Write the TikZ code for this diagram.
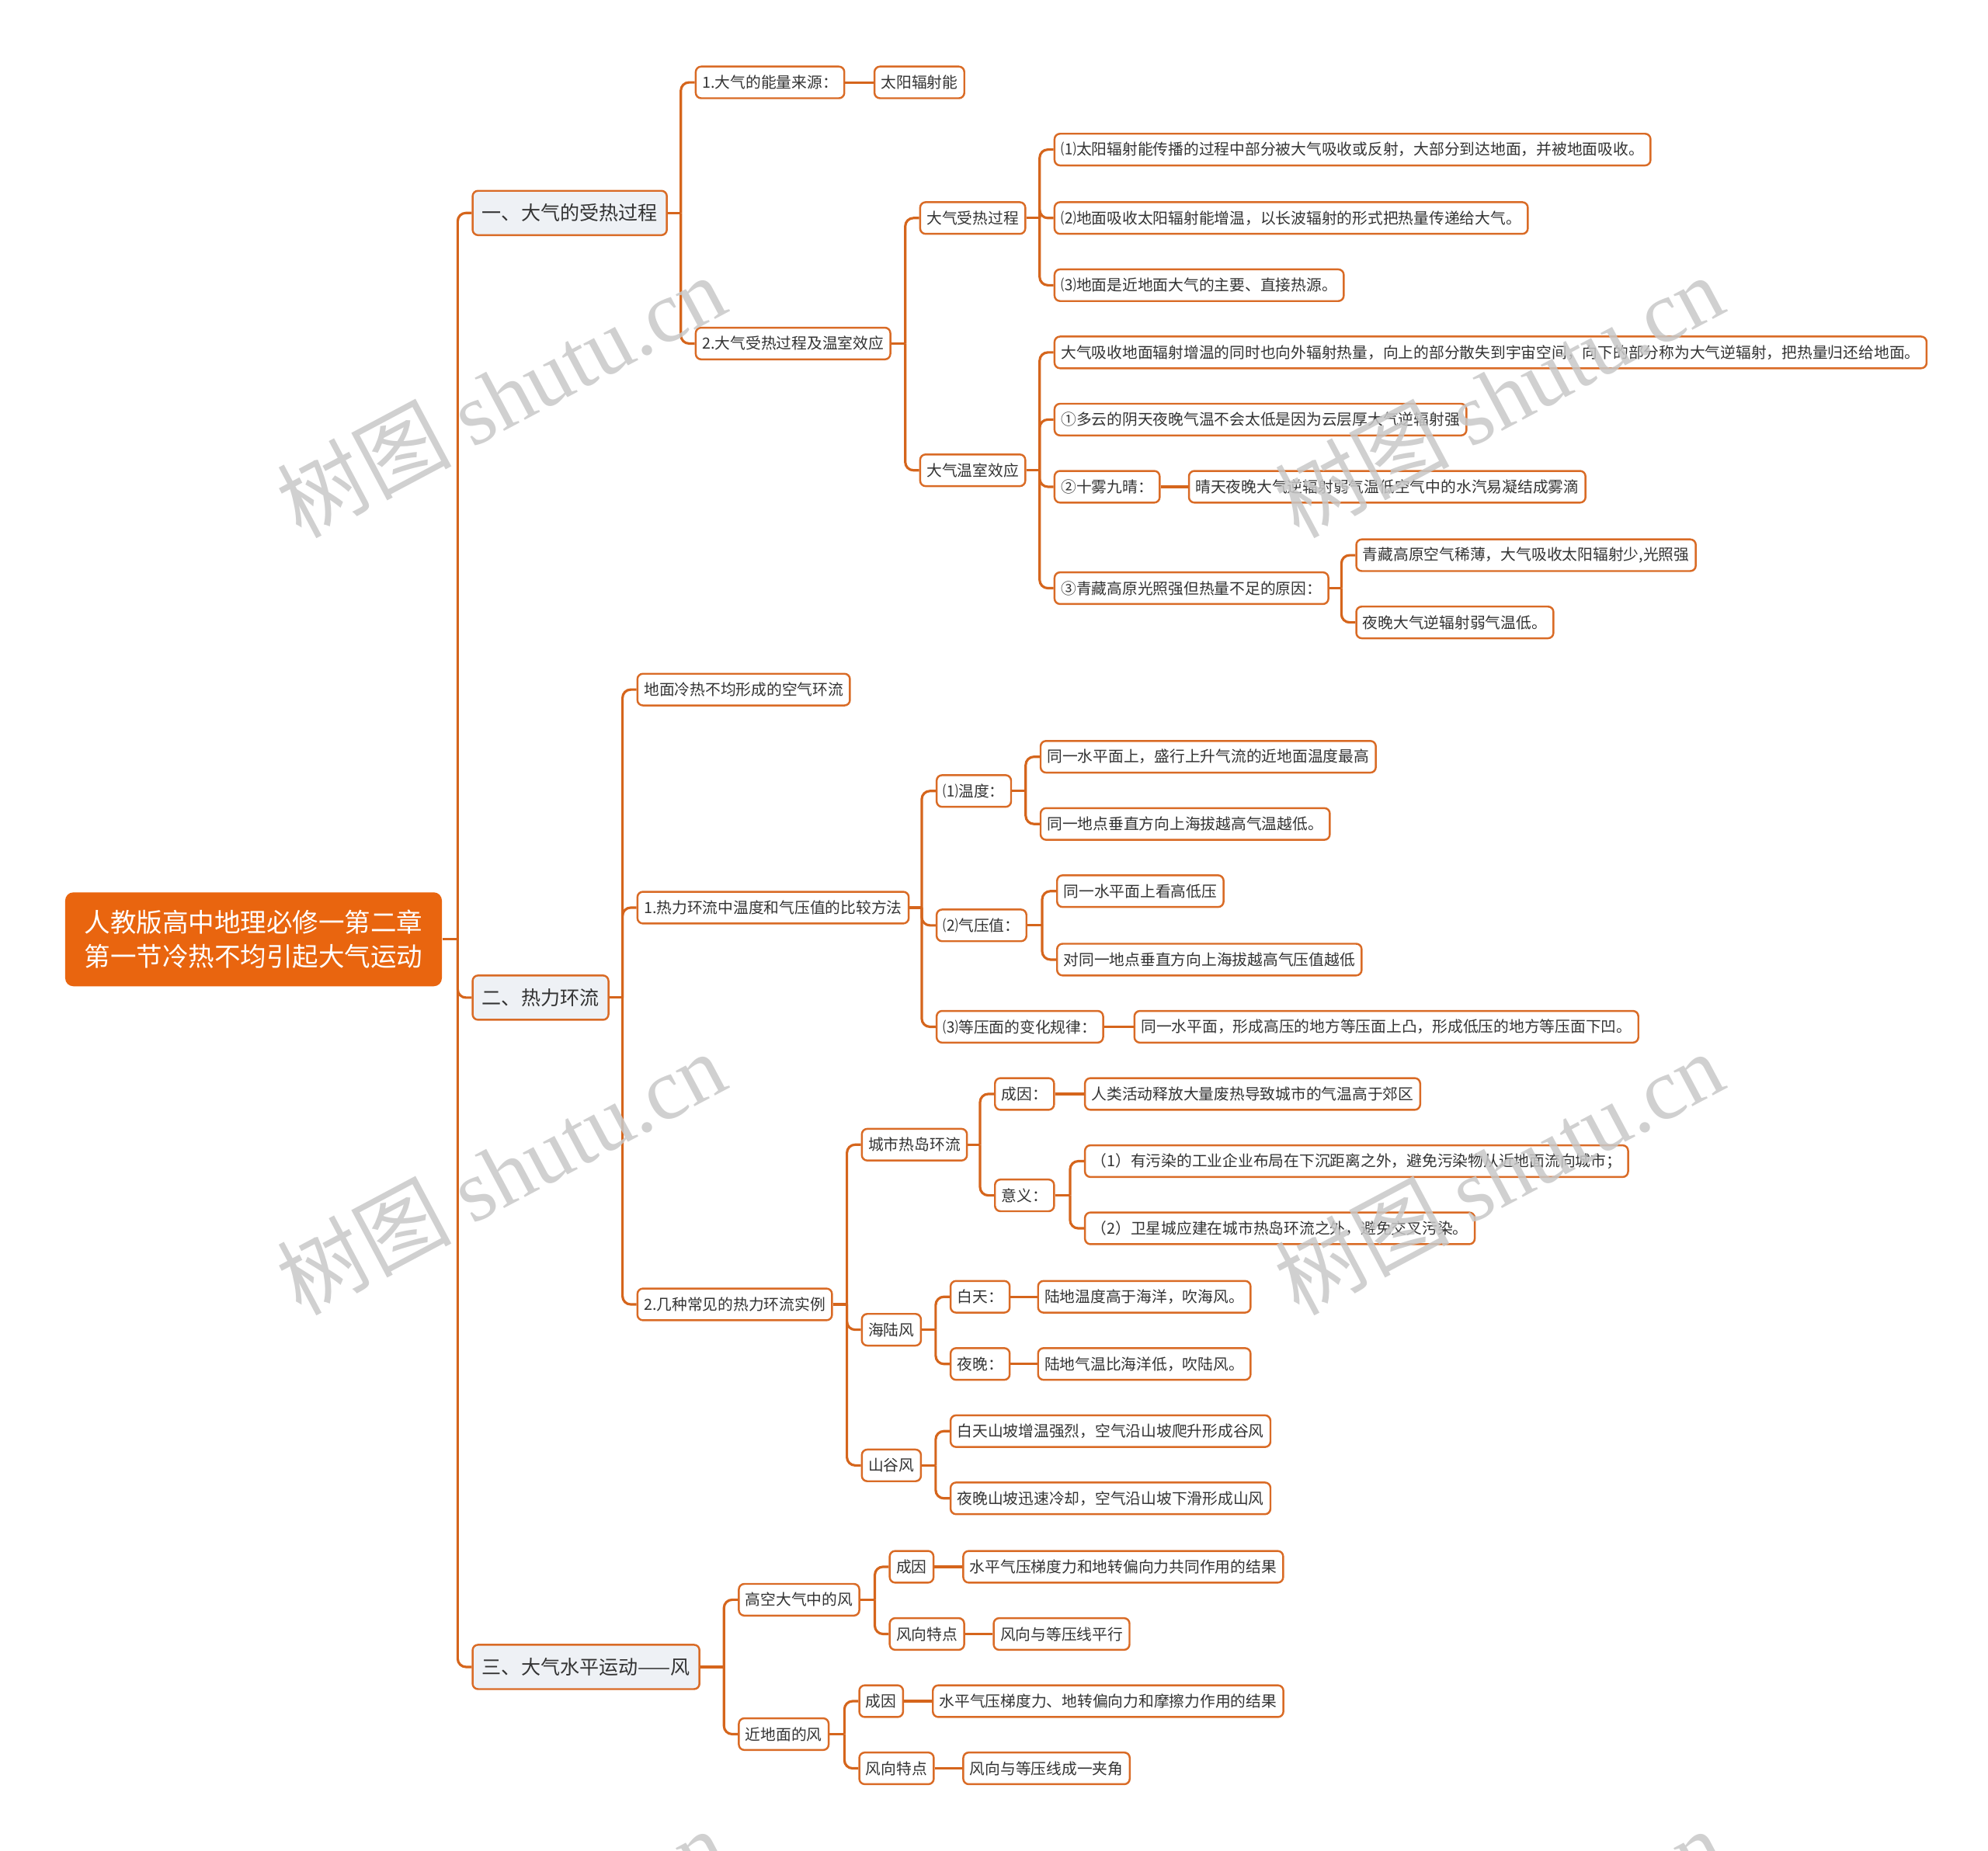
\documentclass[tikz,border=0pt]{standalone}
\usepackage{fontspec}
\setmainfont{Noto Sans CJK SC}
\newfontfamily\serifmarca{Liberation Serif}
\usepackage{tikz}
\usetikzlibrary{calc}
\definecolor{naranja}{HTML}{E9650F}
\definecolor{borde}{HTML}{D96B26}
\definecolor{linea}{HTML}{D5651C}
\definecolor{fondo}{HTML}{EEF1F5}
\definecolor{tinta}{HTML}{333333}
\definecolor{marcagris}{HTML}{C8C8C8}

\begin{document}
\begin{tikzpicture}[x=0.016327cm, y=-0.016327cm,
    hoja/.style={draw=borde, line width=0.7pt, fill=white, rounded corners=2pt, anchor=west,
      minimum height=0.408cm, inner xsep=2.4pt, inner ysep=0pt, text=tinta,
      font=\fontsize{5.62}{7}\selectfont},
    rama/.style={hoja, fill=fondo, minimum height=0.571cm, inner xsep=3.5pt,
      font=\fontsize{7.13}{9}\selectfont},
    raizbox/.style={fill=naranja, rounded corners=3pt, anchor=west, align=center, text=white,
      minimum height=1.21cm, inner xsep=7pt, font=\fontsize{9.54}{12.5}\selectfont},
    enlace/.style={draw=linea, line width=0.9pt},
    marca/.style={text=marcagris, opacity=0.85, rotate=28, inner sep=0pt}]
  \useasboundingbox (0,0) rectangle (1568,1460);

  \node[raizbox] (raiz) at (51,741) {人教版高中地理必修一第二章\\第一节冷热不均引起大气运动};

  \node[rama] (ta) at (372,168) {一、大气的受热过程};
  \node[rama] (tb) at (372,787) {二、热力环流};
  \node[rama] (tc) at (372,1315) {三、大气水平运动——风};

  % un
  \node[hoja] (ta1) at (548,65) {1.大气的能量来源：};
  \node[hoja] (ta1x) at (689,65) {太阳辐射能};
  \node[hoja] (ta2) at (548,271) {2.大气受热过程及温室效应};
  \node[hoja] (ta2a) at (725,172) {大气受热过程};
  \node[hoja] (ta2a1) at (831,118) {⑴太阳辐射能传播的过程中部分被大气吸收或反射，大部分到达地面，并被地面吸收。};
  \node[hoja] (ta2a2) at (831,172) {⑵地面吸收太阳辐射能增温，以长波辐射的形式把热量传递给大气。};
  \node[hoja] (ta2a3) at (831,225) {⑶地面是近地面大气的主要、直接热源。};
  \node[hoja] (ta2b) at (725,371) {大气温室效应};
  \node[hoja] (ta2b1) at (831,278) {大气吸收地面辐射增温的同时也向外辐射热量，向上的部分散失到宇宙空间，向下的部分称为大气逆辐射，把热量归还给地面。};
  \node[hoja] (ta2b2) at (831,331) {①多云的阴天夜晚气温不会太低是因为云层厚大气逆辐射强};
  \node[hoja] (ta2b3) at (831,384) {②十雾九晴：};
  \node[hoja] (ta2b3x) at (937,384) {晴天夜晚大气逆辐射弱气温低空气中的水汽易凝结成雾滴};
  \node[hoja] (ta2b4) at (831,464) {③青藏高原光照强但热量不足的原因：};
  \node[hoja] (ta2b4a) at (1069,438) {青藏高原空气稀薄，大气吸收太阳辐射少,光照强};
  \node[hoja] (ta2b4b) at (1069,491) {夜晚大气逆辐射弱气温低。};

  % dos
  \node[hoja] (tb0) at (502,544) {地面冷热不均形成的空气环流};
  \node[hoja] (tb1) at (502,716) {1.热力环流中温度和气压值的比较方法};
  \node[hoja] (tb1a) at (738,624) {⑴温度：};
  \node[hoja] (tb1a1) at (820,597) {同一水平面上，盛行上升气流的近地面温度最高};
  \node[hoja] (tb1a2) at (820,650) {同一地点垂直方向上海拔越高气温越低。};
  \node[hoja] (tb1b) at (738,730) {⑵气压值：};
  \node[hoja] (tb1b1) at (833,703) {同一水平面上看高低压};
  \node[hoja] (tb1b2) at (833,757) {对同一地点垂直方向上海拔越高气压值越低};
  \node[hoja] (tb1c) at (738,810) {⑶等压面的变化规律：};
  \node[hoja] (tb1cx) at (894,810) {同一水平面，形成高压的地方等压面上凸，形成低压的地方等压面下凹。};
  \node[hoja] (tb2) at (502,1029) {2.几种常见的热力环流实例};
  \node[hoja] (tb2a) at (679,903) {城市热岛环流};
  \node[hoja] (tb2a1) at (784,863) {成因：};
  \node[hoja] (tb2a1x) at (855,863) {人类活动释放大量废热导致城市的气温高于郊区};
  \node[hoja] (tb2a2) at (784,943) {意义：};
  \node[hoja] (tb2a2a) at (855,916) {（1）有污染的工业企业布局在下沉距离之外，避免污染物从近地面流向城市；};
  \node[hoja] (tb2a2b) at (855,969) {（2）卫星城应建在城市热岛环流之外，避免交叉污染。};
  \node[hoja] (tb2b) at (679,1049) {海陆风};
  \node[hoja] (tb2b1) at (749,1023) {白天：};
  \node[hoja] (tb2b1x) at (818,1023) {陆地温度高于海洋，吹海风。};
  \node[hoja] (tb2b2) at (749,1076) {夜晚：};
  \node[hoja] (tb2b2x) at (818,1076) {陆地气温比海洋低，吹陆风。};
  \node[hoja] (tb2c) at (679,1156) {山谷风};
  \node[hoja] (tb2c1) at (749,1129) {白天山坡增温强烈，空气沿山坡爬升形成谷风};
  \node[hoja] (tb2c2) at (749,1182) {夜晚山坡迅速冷却，空气沿山坡下滑形成山风};

  % tres
  \node[hoja] (tc1) at (582,1262) {高空大气中的风};
  \node[hoja] (tc1a) at (701,1236) {成因};
  \node[hoja] (tc1ax) at (759,1236) {水平气压梯度力和地转偏向力共同作用的结果};
  \node[hoja] (tc1b) at (701,1289) {风向特点};
  \node[hoja] (tc1bx) at (783,1289) {风向与等压线平行};
  \node[hoja] (tc2) at (582,1368) {近地面的风};
  \node[hoja] (tc2a) at (677,1342) {成因};
  \node[hoja] (tc2ax) at (735,1342) {水平气压梯度力、地转偏向力和摩擦力作用的结果};
  \node[hoja] (tc2b) at (677,1395) {风向特点};
  \node[hoja] (tc2bx) at (759,1395) {风向与等压线成一夹角};

  \foreach \p/\c in {raiz/ta, raiz/tb, raiz/tc, ta/ta1, ta/ta2, ta2/ta2a, ta2/ta2b,
      ta2a/ta2a1, ta2a/ta2a2, ta2a/ta2a3, ta2b/ta2b1, ta2b/ta2b2, ta2b/ta2b3, ta2b/ta2b4,
      ta2b4/ta2b4a, ta2b4/ta2b4b, tb/tb0, tb/tb1, tb/tb2, tb1/tb1a, tb1/tb1b, tb1/tb1c,
      tb1a/tb1a1, tb1a/tb1a2, tb1b/tb1b1, tb1b/tb1b2, tb2/tb2a, tb2/tb2b, tb2/tb2c,
      tb2a/tb2a1, tb2a/tb2a2, tb2a2/tb2a2a, tb2a2/tb2a2b, tb2b/tb2b1, tb2b/tb2b2,
      tb2c/tb2c1, tb2c/tb2c2, tc/tc1, tc/tc2, tc1/tc1a, tc1/tc1b, tc2/tc2a, tc2/tc2b} {
    \draw[enlace] (\p.east) -- ($(\p.east -| \c.west)+(-11,0)$);
    \draw[enlace, rounded corners=3pt] ($(\p.east -| \c.west)+(-11,0)$) |- (\c.west);
  }
  \foreach \p/\c in {ta1/ta1x, ta2b3/ta2b3x, tb1c/tb1cx, tb2a1/tb2a1x, tb2b1/tb2b1x,
      tb2b2/tb2b2x, tc1a/tc1ax, tc1b/tc1bx, tc2a/tc2ax, tc2b/tc2bx}
    \draw[enlace] (\p.east) -- (\c.west);

  \node[marca] (m1) at (395,312) {\fontsize{32}{32}\selectfont 树图 {\serifmarca shutu.cn}};
  \node[marca] (m2) at (1182,312) {\fontsize{32}{32}\selectfont 树图 {\serifmarca shutu.cn}};
  \node[marca] (m3) at (395,925) {\fontsize{32}{32}\selectfont 树图 {\serifmarca shutu.cn}};
  \node[marca] (m4) at (1182,925) {\fontsize{32}{32}\selectfont 树图 {\serifmarca shutu.cn}};
  \node[marca] (m5) at (395,1538) {\fontsize{32}{32}\selectfont 树图 {\serifmarca shutu.cn}};
  \node[marca] (m6) at (1182,1538) {\fontsize{32}{32}\selectfont 树图 {\serifmarca shutu.cn}};
\end{tikzpicture}
\end{document}
